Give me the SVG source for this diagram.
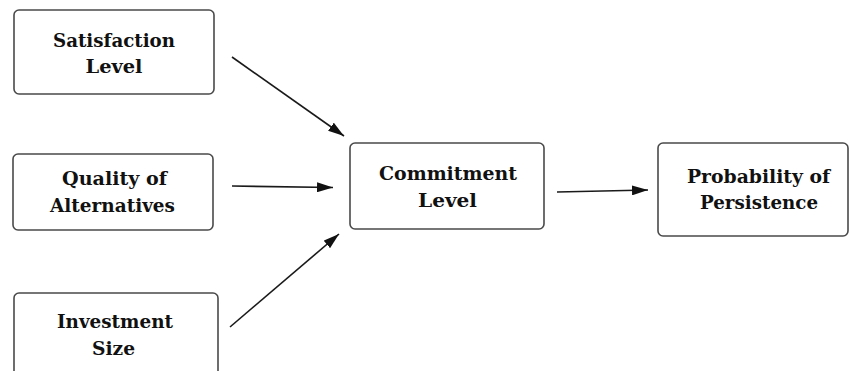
<svg xmlns="http://www.w3.org/2000/svg" width="850" height="371" viewBox="0 0 850 371">
  <style>
    .box { fill: #ffffff; stroke: #4a4a4a; stroke-width: 1.6; }
    .lbl { font-family: "DejaVu Serif", "Liberation Serif", serif; font-weight: bold; font-size: 18px; fill: #111111; text-anchor: middle; }
    .edge { stroke: #1a1a1a; stroke-width: 1.6; fill: none; marker-end: url(#head); }
  </style>
  <defs>
    <marker id="head" viewBox="0 0 16 10" refX="16" refY="5" markerWidth="16" markerHeight="10" markerUnits="userSpaceOnUse" orient="auto">
      <path d="M0,0 L16,5 L0,10 Z" fill="#111111"/>
    </marker>
  </defs>
  <rect width="850" height="371" fill="#ffffff"/>

  <g id="satisfaction">
    <rect class="box" x="14" y="10" width="200" height="84" rx="5"/>
    <text class="lbl" x="114" y="47" textLength="122" lengthAdjust="spacingAndGlyphs">Satisfaction</text>
    <text class="lbl" x="114" y="73" textLength="57" lengthAdjust="spacingAndGlyphs">Level</text>
  </g>

  <g id="quality">
    <rect class="box" x="13" y="154" width="200" height="76" rx="5"/>
    <text class="lbl" x="114.5" y="185" textLength="105" lengthAdjust="spacingAndGlyphs">Quality of</text>
    <text class="lbl" x="112.5" y="212" textLength="125" lengthAdjust="spacingAndGlyphs">Alternatives</text>
  </g>

  <g id="investment">
    <rect class="box" x="14" y="293" width="204" height="90" rx="5"/>
    <text class="lbl" x="115" y="328" textLength="116" lengthAdjust="spacingAndGlyphs">Investment</text>
    <text class="lbl" x="113.5" y="355" textLength="43" lengthAdjust="spacingAndGlyphs">Size</text>
  </g>

  <g id="commitment">
    <rect class="box" x="350" y="143" width="194" height="86" rx="5"/>
    <text class="lbl" x="448" y="180" textLength="138" lengthAdjust="spacingAndGlyphs">Commitment</text>
    <text class="lbl" x="447.5" y="207" textLength="59" lengthAdjust="spacingAndGlyphs">Level</text>
  </g>

  <g id="persistence">
    <rect class="box" x="658" y="143" width="190" height="93" rx="5"/>
    <text class="lbl" x="758.5" y="183" textLength="143" lengthAdjust="spacingAndGlyphs">Probability of</text>
    <text class="lbl" x="759" y="209" textLength="118" lengthAdjust="spacingAndGlyphs">Persistence</text>
  </g>

  <g id="connectors">
    <line class="edge" x1="232" y1="57" x2="344" y2="136"/>
    <line class="edge" x1="232" y1="186" x2="333" y2="187.5"/>
    <line class="edge" x1="230" y1="327" x2="339" y2="234"/>
    <line class="edge" x1="557" y1="192" x2="648" y2="190"/>
  </g>
</svg>
